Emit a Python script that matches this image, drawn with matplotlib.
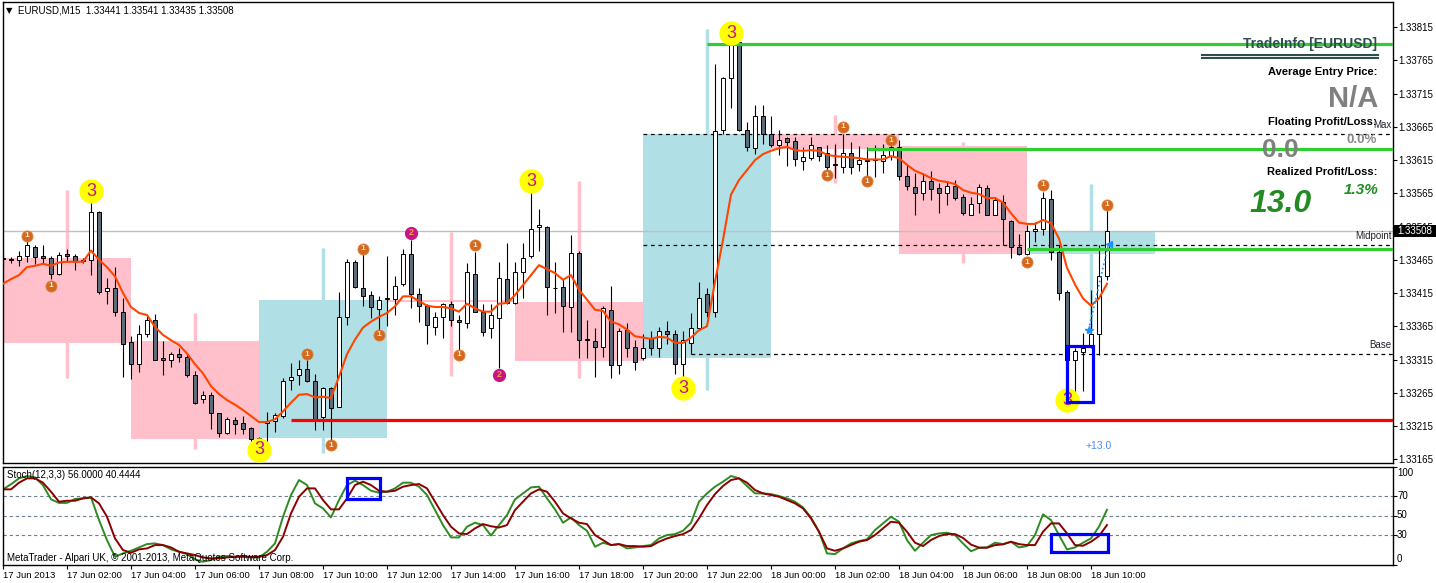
import numpy as np
import matplotlib.pyplot as plt
from matplotlib.patches import Rectangle

plt.rcParams['font.family'] = ['Liberation Sans', 'DejaVu Sans']

# M15 candles, 17 Jun 2013 00:00 .. 18 Jun 2013 10:30
opens = [1.33467, 1.33466, 1.33464, 1.33470, 1.33485, 1.33470, 1.33467, 1.33443, 1.33473, 1.33470,
         1.33463, 1.33464, 1.33537, 1.33418, 1.33422, 1.33386, 1.33342, 1.33309, 1.33353, 1.33375,
         1.33318, 1.33315, 1.33323, 1.33319, 1.33292, 1.33255, 1.33261, 1.33234, 1.33204, 1.33224,
         1.33219, 1.33212, 1.33195, 1.33219, 1.33223, 1.33230, 1.33284, 1.33291, 1.33300, 1.33282,
         1.33228, 1.33272, 1.33244, 1.33379, 1.33461, 1.33422, 1.33412, 1.33391, 1.33406, 1.33406,
         1.33428, 1.33474, 1.33413, 1.33395, 1.33364, 1.33379, 1.33398, 1.33375, 1.33370, 1.33444,
         1.33387, 1.33363, 1.33378, 1.33436, 1.33400, 1.33447, 1.33471, 1.33514, 1.33515, 1.33423,
         1.33424, 1.33394, 1.33476, 1.33346, 1.33343, 1.33334, 1.33390, 1.33306, 1.33360, 1.33334,
         1.33317, 1.33347, 1.33333, 1.33358, 1.33354, 1.33309, 1.33340, 1.33363, 1.33414, 1.33387,
         1.33661, 1.33738, 1.33793, 1.33661, 1.33633, 1.33682, 1.33654, 1.33637, 1.33649, 1.33644,
         1.33614, 1.33618, 1.33634, 1.33626, 1.33608, 1.33605, 1.33625, 1.33609, 1.33615, 1.33615,
         1.33614, 1.33621, 1.33635, 1.33591, 1.33574, 1.33566, 1.33583, 1.33573, 1.33566, 1.33576,
         1.33560, 1.33533, 1.33551, 1.33573, 1.33533, 1.33552, 1.33524, 1.33485, 1.33474, 1.33509,
         1.33512, 1.33556, 1.33477, 1.33416, 1.33315, 1.33327, 1.33334, 1.33354, 1.33441]
highs = [1.33479, 1.33469, 1.33479, 1.33495, 1.33487, 1.33487, 1.33471, 1.33477, 1.33482, 1.33474,
         1.33467, 1.33552, 1.33538, 1.33437, 1.33454, 1.33407, 1.33351, 1.33367, 1.33380, 1.33384,
         1.33343, 1.33327, 1.33332, 1.33323, 1.33298, 1.33267, 1.33266, 1.33235, 1.33228, 1.33228,
         1.33230, 1.33214, 1.33199, 1.33236, 1.33234, 1.33287, 1.33310, 1.33314, 1.33314, 1.33293,
         1.33274, 1.33274, 1.33417, 1.33466, 1.33465, 1.33475, 1.33418, 1.33411, 1.33471, 1.33440,
         1.33482, 1.33495, 1.33423, 1.33398, 1.33386, 1.33400, 1.33403, 1.33382, 1.33460, 1.33477,
         1.33398, 1.33398, 1.33461, 1.33490, 1.33461, 1.33491, 1.33566, 1.33542, 1.33516, 1.33461,
         1.33436, 1.33503, 1.33478, 1.33374, 1.33362, 1.33395, 1.33425, 1.33363, 1.33370, 1.33345,
         1.33354, 1.33358, 1.33364, 1.33373, 1.33359, 1.33358, 1.33385, 1.33432, 1.33422, 1.33760,
         1.33740, 1.33797, 1.33800, 1.33673, 1.33698, 1.33698, 1.33681, 1.33661, 1.33650, 1.33650,
         1.33634, 1.33650, 1.33635, 1.33638, 1.33640, 1.33655, 1.33642, 1.33636, 1.33634, 1.33638,
         1.33640, 1.33644, 1.33645, 1.33608, 1.33595, 1.33595, 1.33599, 1.33581, 1.33583, 1.33585,
         1.33564, 1.33560, 1.33579, 1.33578, 1.33560, 1.33563, 1.33525, 1.33504, 1.33517, 1.33522,
         1.33567, 1.33570, 1.33487, 1.33420, 1.33332, 1.33355, 1.33420, 1.33487, 1.33541]
lows = [1.33454, 1.33460, 1.33456, 1.33461, 1.33459, 1.33460, 1.33436, 1.33442, 1.33462, 1.33449,
        1.33460, 1.33442, 1.33414, 1.33398, 1.33381, 1.33288, 1.33286, 1.33296, 1.33349, 1.33314,
        1.33292, 1.33304, 1.33312, 1.33289, 1.33248, 1.33249, 1.33210, 1.33199, 1.33203, 1.33203,
        1.33203, 1.33191, 1.33189, 1.33185, 1.33206, 1.33227, 1.33269, 1.33276, 1.33281, 1.33209,
        1.33209, 1.33194, 1.33243, 1.33367, 1.33422, 1.33395, 1.33377, 1.33359, 1.33365, 1.33382,
        1.33425, 1.33392, 1.33371, 1.33338, 1.33352, 1.33347, 1.33365, 1.33329, 1.33363, 1.33386,
        1.33350, 1.33348, 1.33302, 1.33398, 1.33398, 1.33407, 1.33467, 1.33479, 1.33382, 1.33385,
        1.33357, 1.33357, 1.33318, 1.33318, 1.33288, 1.33319, 1.33287, 1.33293, 1.33319, 1.33299,
        1.33314, 1.33322, 1.33319, 1.33339, 1.33293, 1.33289, 1.33324, 1.33362, 1.33379, 1.33379,
        1.33654, 1.33694, 1.33659, 1.33628, 1.33624, 1.33640, 1.33635, 1.33623, 1.33606, 1.33606,
        1.33600, 1.33615, 1.33614, 1.33600, 1.33588, 1.33595, 1.33594, 1.33598, 1.33590, 1.33589,
        1.33595, 1.33615, 1.33585, 1.33570, 1.33532, 1.33555, 1.33555, 1.33536, 1.33548, 1.33555,
        1.33532, 1.33532, 1.33535, 1.33532, 1.33532, 1.33488, 1.33467, 1.33472, 1.33472, 1.33492,
        1.33502, 1.33465, 1.33404, 1.33314, 1.33264, 1.33268, 1.33333, 1.33322, 1.33435]
closes = [1.33466, 1.33464, 1.33470, 1.33488, 1.33469, 1.33467, 1.33443, 1.33472, 1.33470, 1.33463,
          1.33463, 1.33537, 1.33416, 1.33422, 1.33386, 1.33339, 1.33309, 1.33353, 1.33374, 1.33315,
          1.33315, 1.33323, 1.33319, 1.33292, 1.33250, 1.33261, 1.33234, 1.33204, 1.33225, 1.33218,
          1.33211, 1.33195, 1.33197, 1.33222, 1.33231, 1.33283, 1.33288, 1.33300, 1.33282, 1.33224,
          1.33272, 1.33242, 1.33379, 1.33461, 1.33424, 1.33410, 1.33394, 1.33404, 1.33407, 1.33426,
          1.33474, 1.33413, 1.33395, 1.33367, 1.33379, 1.33398, 1.33375, 1.33372, 1.33446, 1.33387,
          1.33357, 1.33382, 1.33437, 1.33400, 1.33447, 1.33467, 1.33512, 1.33517, 1.33424, 1.33422,
          1.33395, 1.33476, 1.33345, 1.33344, 1.33334, 1.33393, 1.33306, 1.33358, 1.33332, 1.33312,
          1.33333, 1.33333, 1.33358, 1.33354, 1.33308, 1.33345, 1.33363, 1.33407, 1.33387, 1.33659,
          1.33738, 1.33793, 1.33661, 1.33634, 1.33682, 1.33654, 1.33638, 1.33645, 1.33643, 1.33616,
          1.33619, 1.33638, 1.33621, 1.33605, 1.33609, 1.33625, 1.33604, 1.33615, 1.33613, 1.33616,
          1.33623, 1.33635, 1.33591, 1.33576, 1.33565, 1.33583, 1.33571, 1.33566, 1.33576, 1.33558,
          1.33535, 1.33549, 1.33574, 1.33533, 1.33555, 1.33526, 1.33485, 1.33474, 1.33509, 1.33512,
          1.33558, 1.33477, 1.33415, 1.33315, 1.33328, 1.33332, 1.33354, 1.33440, 1.33508]

ma = [1.33429, 1.33436, 1.33442, 1.33454, 1.33456, 1.33459, 1.33456, 1.33461, 1.33462, 1.33462,
      1.33462, 1.33479, 1.33465, 1.33454, 1.33440, 1.33415, 1.33394, 1.33385, 1.33382, 1.33364,
      1.33352, 1.33344, 1.33337, 1.33324, 1.33308, 1.33294, 1.33275, 1.33263, 1.33254, 1.33247,
      1.33239, 1.33230, 1.33221, 1.33221, 1.33225, 1.33237, 1.33250, 1.33262, 1.33263, 1.33258,
      1.33259, 1.33257, 1.33289, 1.33323, 1.33345, 1.33363, 1.33372, 1.33379, 1.33385, 1.33395,
      1.33410, 1.33410, 1.33403, 1.33396, 1.33394, 1.33394, 1.33392, 1.33387, 1.33399, 1.33392,
      1.33387, 1.33387, 1.33399, 1.33400, 1.33412, 1.33427, 1.33442, 1.33457, 1.33451, 1.33445,
      1.33435, 1.33442, 1.33420, 1.33405, 1.33390, 1.33388, 1.33372, 1.33368, 1.33360, 1.33350,
      1.33348, 1.33346, 1.33349, 1.33348, 1.33340, 1.33340, 1.33348, 1.33359, 1.33365, 1.33432,
      1.33495, 1.33563, 1.33585, 1.33600, 1.33615, 1.33624, 1.33629, 1.33633, 1.33635, 1.33630,
      1.33629, 1.33630, 1.33629, 1.33623, 1.33621, 1.33620, 1.33619, 1.33618, 1.33616, 1.33616,
      1.33616, 1.33621, 1.33618, 1.33608, 1.33599, 1.33594, 1.33588, 1.33584, 1.33582, 1.33579,
      1.33570, 1.33566, 1.33564, 1.33558, 1.33558, 1.33551, 1.33535, 1.33521, 1.33519, 1.33519,
      1.33525, 1.33520, 1.33497, 1.33453, 1.33428, 1.33407, 1.33396, 1.33407, 1.33429]

stoch_k = [76.8, 82, 88, 90.4, 89, 81, 66.6, 63, 63, 67,
           67.6, 68.6, 45.5, 25, 8.1, 11.5, 14.2, 17.6, 21, 21.7,
           20, 15.6, 13.2, 10.8, 5.4, 3, 4.7, 8.1, 8.8, 8.1,
           8.8, 7.4, 7.4, 13.2, 21.7, 48.9, 71, 86.3, 81.2, 62.5,
           57.4, 48.2, 65.9, 81.2, 85.6, 81.2, 75.4, 73.4, 74.4, 77.8,
           83.6, 83.6, 79.5, 71, 55.7, 40.4, 27.8, 27.8, 38.7, 42.8,
           40.4, 29.7, 40.4, 50.6, 66.6, 72.7, 78.8, 79.5, 67.6, 56.4,
           42.8, 48.2, 40.4, 34.6, 18.3, 22.4, 20, 21, 16.6, 17.6,
           19, 20, 26.8, 30.2, 31.2, 34.6, 42.8, 64.2, 72.7, 79.5,
           84.6, 90.4, 88, 80.2, 72.7, 72.7, 72, 70, 67.6, 64.2,
           58.4, 48.2, 33.6, 11.5, 10.8, 16.6, 21.7, 24.1, 25.8, 35.3,
           42.1, 48.9, 43.8, 25.1, 14.2, 22.4, 30.2, 31.9, 32.6, 30.2,
           21.7, 13.7, 17.1, 17.6, 22.4, 21, 23.4, 17.6, 19, 30.2,
           51.3, 45.5, 30.2, 15.6, 17.6, 22.4, 26.8, 38.7, 56.0]
stoch_d = [76.8, 76.8, 83.6, 88, 88, 83.6, 74.4, 64.2, 65.2, 65.2,
           67.6, 68.6, 62.5, 48.9, 26.8, 14.9, 12.2, 15.6, 16.6, 20,
           20, 17.6, 13.2, 11.5, 9.8, 7.4, 6.4, 6.4, 7.4, 8.1,
           8.1, 8.1, 8.1, 9.8, 14.9, 28.5, 52.3, 69.3, 77.8, 77.8,
           65.9, 56.4, 56.4, 67.6, 81.2, 84.6, 81.2, 75.4, 74.4, 75.4,
           79.5, 81.2, 82.2, 77.8, 64.2, 50.6, 38.7, 31.9, 31.2, 37,
           41.4, 39.2, 37.9, 40.4, 55.7, 64.2, 72.7, 76.8, 74.4, 64.2,
           52.3, 47.2, 42.8, 41.4, 30.2, 25.1, 20, 21, 19, 19,
           18.3, 19, 23.4, 26.8, 29.2, 31.2, 35.3, 47.2, 60.8, 72,
           80.2, 86.3, 88, 83.6, 76.1, 72.7, 71, 69.3, 65.9, 62.5,
           57.4, 47.2, 33.6, 16.6, 14.2, 16.6, 20, 23.4, 25.1, 30.2,
           37, 43.8, 42.8, 33.6, 22.4, 19, 25.1, 29.2, 31.2, 31.2,
           27.3, 20.5, 17.4, 17.3, 20, 20.7, 23.4, 21, 20, 20,
           33.6, 42.1, 42.1, 31.9, 20, 19.3, 23.4, 29.2, 40.4444]

# H4 candles drawn as boxes behind the M15 bars
h4_start = [0, 16, 32, 48, 64, 80, 96, 112, 128]
h4_open = [1.33467, 1.33343, 1.33197, 1.33405, 1.33402, 1.33318, 1.33654, 1.33636, 1.33474]
h4_close = [1.33340, 1.33196, 1.33405, 1.33402, 1.33313, 1.33654, 1.33631, 1.33474, 1.33508]
h4_high = [1.33570, 1.33385, 1.33483, 1.33507, 1.33583, 1.33812, 1.33683, 1.33643, 1.33579]
h4_low = [1.33287, 1.33180, 1.33175, 1.33290, 1.33287, 1.33269, 1.33580, 1.33460, 1.33364]

ones_i = [3, 6, 38, 41, 45, 47, 57, 59, 103, 105, 108, 111, 128, 130, 138]
ones_p = [1.33501, 1.33426, 1.33323, 1.33186, 1.33482, 1.33352, 1.33322, 1.33487,
          1.33592, 1.33665, 1.33583, 1.33645, 1.33461, 1.33578, 1.33548]
twos_i = [51, 62]
twos_p = [1.33506, 1.33292]
threes_i = [11, 32, 66, 85, 91, 133]
threes_p = [1.33568, 1.33179, 1.33583, 1.33272, 1.33806, 1.33254]

price_ticks = [1.33165, 1.33215, 1.33265, 1.33315, 1.33365, 1.33415, 1.33465,
               1.33515, 1.33565, 1.33615, 1.33665, 1.33715, 1.33765, 1.33815]
time_labels = ['17 Jun 2013', '17 Jun 02:00', '17 Jun 04:00', '17 Jun 06:00', '17 Jun 08:00',
               '17 Jun 10:00', '17 Jun 12:00', '17 Jun 14:00', '17 Jun 16:00', '17 Jun 18:00',
               '17 Jun 20:00', '17 Jun 22:00', '18 Jun 00:00', '18 Jun 02:00', '18 Jun 04:00',
               '18 Jun 06:00', '18 Jun 08:00', '18 Jun 10:00']

W, H = 1436, 583
fig = plt.figure(figsize=(W / 100, H / 100), dpi=100)
fig.patch.set_facecolor('white')

def fx(x):
    return x / W

def fy(y):
    return 1 - y / H

ax = fig.add_axes([fx(2.5), fy(463), 1390 / W, 461 / H])
ax2 = fig.add_axes([fx(2.5), fy(564.7), 1390 / W, 98.1 / H])
x0, x1 = -0.0625, 173.69
n = len(opens)
idx = np.arange(n)

# H4 boxes
for k in range(len(h4_start)):
    col = '#b0dfe5' if h4_close[k] > h4_open[k] else '#ffc0cb'
    c = h4_start[k] + 8
    ax.bar(c, abs(h4_close[k] - h4_open[k]), bottom=min(h4_open[k], h4_close[k]),
           width=16, color=col, linewidth=0, zorder=1)
    ax.vlines(c, h4_low[k], h4_high[k], color=col, lw=2.5, zorder=1)

ax.axhline(1.33508, color='#c0c0c0', lw=1, zorder=2)
ax.hlines([1.33654, 1.33488], 80, x1, colors='black', linestyles=(0, (3, 3)), lw=0.9, zorder=2)
ax.hlines(1.33324, 86, x1, colors='black', linestyles=(0, (3, 3)), lw=0.9, zorder=2)

# M15 candles
for i in range(n):
    o, h, l, c = opens[i], highs[i], lows[i], closes[i]
    ax.vlines(i, l, h, color='black', lw=0.8, zorder=3)
    body = max(abs(c - o), 0.000012)
    col = 'white' if c >= o else '#5d6a78'
    ax.bar(i, body, bottom=min(o, c), width=0.62, color=col, edgecolor='black',
           linewidth=0.7, zorder=4)

ax.plot(idx, ma, color='#ff4500', lw=1.5, zorder=5)

# levels
ax.hlines(1.33790, 88, x1, colors='#32cd32', lw=2.3, zorder=6)
ax.hlines(1.33631, 108, x1, colors='#32cd32', lw=2.3, zorder=6)
ax.hlines(1.33481, 128, x1, colors='#32cd32', lw=2.3, zorder=6)
ax.hlines(1.33224, 36, x1, colors='#ff0000', lw=2.3, zorder=6)

ax.text(x1 - 0.1, 1.33660, 'Max', ha='right', va='bottom', fontsize=7, color='#202030', zorder=7)
ax.text(x1 - 0.1, 1.33494, 'Midpoint', ha='right', va='bottom', fontsize=7, color='#202030', zorder=7)
ax.text(x1 - 0.1, 1.33330, 'Base', ha='right', va='bottom', fontsize=7, color='#202030', zorder=7)

# swing markers
for i, p in zip(ones_i, ones_p):
    ax.plot(i, p, 'o', ms=8, mfc='#d2691e', mec='#e08040', mew=0.6, zorder=8)
    ax.text(i, p, '1', ha='center', va='center', fontsize=6, color='#fbe6c8',
            fontweight='bold', zorder=9)
for i, p in zip(twos_i, twos_p):
    ax.plot(i, p, 'o', ms=8.5, mfc='#c71585', mec='#c71585', zorder=8)
    ax.text(i, p, '2', ha='center', va='center', fontsize=6.5, color='#f0a040',
            fontweight='bold', zorder=9)
for i, p in zip(threes_i, threes_p):
    ax.plot(i, p, 'o', ms=16.5, mfc='#ffff00', mec='#ffff00', zorder=8)
    ax.text(i, p, '3', ha='center', va='center', fontsize=13, color='#c71585', zorder=9)

# trade
ax.plot([135.7, 138.2], [1.33360, 1.33489], ls=':', color='#1e90ff', lw=1.2, zorder=9)
ax.plot(135.7, 1.33360, '*', ms=6, color='#1e90ff', zorder=9)
ax.plot(138.2, 1.33489, '<', ms=4, color='#1e90ff', zorder=9)
ax.text(137.0, 1.33185, '+13.0', ha='center', va='center', fontsize=7.5, color='#4a8fe8')
ax.add_patch(Rectangle((132.96, 1.33251), 3.25, 0.00084, fill=False, ec='#0000ff',
                       lw=2.3, zorder=10))

ax.set_xlim(x0, x1)
ax.set_ylim(1.331593, 1.338529)
ax.set_xticks([])
ax.set_yticks(price_ticks)
ax.set_yticklabels([f'{p:.5f}' for p in price_ticks])
ax.yaxis.tick_right()
ax.tick_params(axis='y', direction='out', length=3, pad=1.5, labelsize=7, width=0.8)

# stochastic
for lvl in [30, 50, 70]:
    ax2.axhline(lvl, color='#6f7f90', lw=0.8, ls=(0, (3, 2.5)))
ax2.plot(idx, stoch_k, color='#2e8b22', lw=1.4)
ax2.plot(idx, stoch_d, color='#8b0000', lw=1.4)
ax2.add_patch(Rectangle((43.0, 66.7), 4.1, 21.4, fill=False, ec='#0000ff', lw=2.3, zorder=5))
ax2.add_patch(Rectangle((131.0, 13.3), 7.1, 18.0, fill=False, ec='#0000ff', lw=2.3, zorder=5))
ax2.set_xlim(x0, x1)
ax2.set_ylim(0, 100)
ax2.set_yticks([0, 30, 50, 70, 100])
ax2.set_yticklabels([])
ax2.yaxis.tick_right()
ax2.tick_params(axis='y', direction='out', length=3, width=0.8)
ax2.set_xticks(np.arange(0, 137, 8))
ax2.set_xticklabels(time_labels)
ax2.tick_params(axis='x', direction='out', length=3, pad=1.5, labelsize=6.8, width=0.8)
for lab in ax2.get_xticklabels():
    lab.set_ha('left')

for a in (ax, ax2):
    for s in a.spines.values():
        s.set_linewidth(1)

for v, yp in [('100', 472.7), ('70', 496), ('50', 515.3), ('30', 535.3), ('0', 558.7)]:
    fig.text(fx(1397), fy(yp), v, ha='left', va='center', fontsize=7)

# current price box
fig.patches.append(Rectangle((fx(1393), fy(237.5)), fx(43), 12.5 / H, transform=fig.transFigure,
                             facecolor='black', edgecolor='none', zorder=5))
fig.text(fx(1397), fy(231), '1.33508', ha='left', va='center', fontsize=7, color='white', zorder=6)

# headers
fig.text(fx(6), fy(13.5), '\u25bc', fontsize=6, family='DejaVu Sans', va='baseline')
fig.text(fx(18), fy(13.5), 'EURUSD,M15  1.33441 1.33541 1.33435 1.33508', fontsize=7,
         va='baseline')
fig.text(fx(7), fy(477.7), 'Stoch(12,3,3) 56.0000 40.4444', fontsize=7, va='baseline')
fig.text(fx(7), fy(561), 'MetaTrader - Alpari UK, \u00a9 2001-2013, MetaQuotes Software Corp.',
         fontsize=7, va='baseline')

# trade info panel
fig.text(fx(1377), fy(48), 'TradeInfo [EURUSD]', ha='right', va='baseline', fontsize=10,
         fontweight='bold', color='#2f4f4f', zorder=6)
fig.lines.append(plt.Line2D([fx(1202), fx(1378)], [fy(55), fy(55)], transform=fig.transFigure,
                            color='#2f4f4f', lw=1.5))
fig.lines.append(plt.Line2D([fx(1202), fx(1378)], [fy(58.3), fy(58.3)], transform=fig.transFigure,
                            color='#2f4f4f', lw=1.5))
fig.text(fx(1377), fy(75), 'Average Entry Price:', ha='right', va='baseline', fontsize=8,
         fontweight='bold', color='black', zorder=6)
fig.text(fx(1378), fy(107.3), 'N/A', ha='right', va='baseline', fontsize=21,
         fontweight='bold', color='#808080', zorder=6)
fig.text(fx(1377), fy(125), 'Floating Profit/Loss:', ha='right', va='baseline', fontsize=8,
         fontweight='bold', color='black', zorder=6)
fig.text(fx(1377), fy(142.7), '0.0%', ha='right', va='baseline', fontsize=9.5,
         fontweight='bold', color='#8a8a8a', zorder=6)
fig.text(fx(1262), fy(156.7), '0.0', ha='left', va='baseline', fontsize=19,
         fontweight='bold', color='#808080', zorder=6)
fig.text(fx(1377), fy(175), 'Realized Profit/Loss:', ha='right', va='baseline', fontsize=8,
         fontweight='bold', color='black', zorder=6)
fig.text(fx(1344), fy(194), '1.3%', ha='left', va='baseline', fontsize=11,
         fontweight='bold', fontstyle='italic', color='#228b22', zorder=6)
fig.text(fx(1249), fy(211.7), '13.0', ha='left', va='baseline', fontsize=23,
         fontweight='bold', fontstyle='italic', color='#228b22', zorder=6)

fig.savefig('out.png', dpi=100, facecolor='white')
